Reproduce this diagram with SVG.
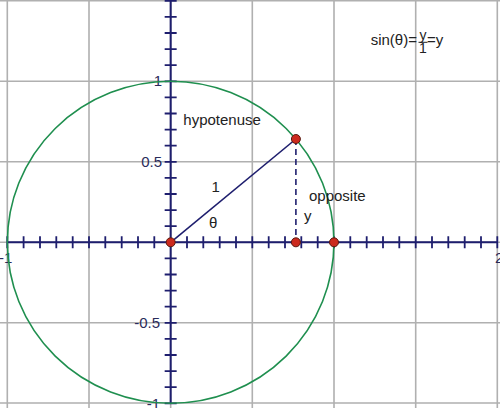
<svg xmlns="http://www.w3.org/2000/svg" width="500" height="408" viewBox="0 0 500 408">
<style>
.grid{stroke:#b0b0b0;stroke-width:1.6;fill:none}
.axis{stroke:#1e1e6e;stroke-width:2;fill:none}
.tick{stroke:#1e1e6e;stroke-width:1.8;fill:none}
.circ{stroke:#1f8f4f;stroke-width:1.6;fill:none}
.seg{stroke:#1e1e6e;stroke-width:1.6;fill:none}
.dash{stroke:#1e1e6e;stroke-width:1.6;fill:none;stroke-dasharray:6,4}
.pt{fill:#cc2a1e;stroke:#5a1a10;stroke-width:1}
.lbl{font-family:"Liberation Sans",Arial,sans-serif;font-size:15px;fill:#222}
.ax{font-family:"Liberation Sans",Arial,sans-serif;font-size:15px;fill:#2a2a5a}
</style>
<rect width="500" height="408" fill="#fff"/>
<g id="grid">
<path class="grid" d="M7.3,0V408M89,0V408M170.67,0V408M252.3,0V408M334,0V408M415.7,0V408M497.3,0V408M0,0.8H500M0,81.3H500M0,161.8H500M0,242.3H500M0,322.8H500M0,403H500"/>
</g>
<g id="axes">
<path class="axis" d="M7.3,242.3H497.3M170.67,0V403.3"/>
<path class="tick" d="M7.3,236.3v12M23.6,236.3v12M40,236.3v12M56.3,236.3v12M72.7,236.3v12M89,236.3v12M105.3,236.3v12M121.7,236.3v12M138,236.3v12M154.3,236.3v12M187,236.3v12M203.3,236.3v12M219.7,236.3v12M236,236.3v12M252.3,236.3v12M268.7,236.3v12M285,236.3v12M301.3,236.3v12M317.7,236.3v12M334,236.3v12M350.3,236.3v12M366.7,236.3v12M383,236.3v12M399.3,236.3v12M415.7,236.3v12M432,236.3v12M448.3,236.3v12M464.7,236.3v12M481,236.3v12M497.3,236.3v12"/>
<path class="tick" d="M164.67,0.8h12M164.67,16.9h12M164.67,33h12M164.67,49.1h12M164.67,65.2h12M164.67,81.3h12M164.67,97.4h12M164.67,113.5h12M164.67,129.6h12M164.67,145.7h12M164.67,161.8h12M164.67,177.9h12M164.67,194h12M164.67,210.1h12M164.67,226.2h12M164.67,258.4h12M164.67,274.5h12M164.67,290.6h12M164.67,306.7h12M164.67,322.8h12M164.67,338.9h12M164.67,355h12M164.67,371.1h12M164.67,387.2h12M164.67,403.3h12"/>
<text class="ax" x="162" y="86" text-anchor="end">1</text>
<text class="ax" x="162" y="167" text-anchor="end">0.5</text>
<text class="ax" x="160" y="328" text-anchor="end">-0.5</text>
<text class="ax" x="160" y="409" text-anchor="end">-1</text>
<text class="ax" x="-1" y="263">-1</text>
<text class="ax" x="495" y="263">2</text>
</g>
<g id="circle">
<ellipse class="circ" cx="170.67" cy="242.3" rx="163.3" ry="161"/>
</g>
<g id="connectors">
<line class="seg" x1="170.67" y1="242.3" x2="295.9" y2="139"/>
<line class="dash" x1="295.9" y1="139" x2="295.9" y2="242.3"/>
</g>
<g id="points">
<circle id="origin" class="pt" cx="170.67" cy="242.3" r="4.5"/>
<circle id="P" class="pt" cx="295.9" cy="139" r="4.5"/>
<circle id="foot" class="pt" cx="295.9" cy="242.3" r="4.5"/>
<circle id="one" class="pt" cx="334" cy="242.3" r="4.5"/>
</g>
<g id="labels">
<text class="lbl" x="183.3" y="125">hypotenuse</text>
<text class="lbl" x="211.5" y="192">1</text>
<text class="lbl" x="209" y="228">θ</text>
<text class="lbl" x="304" y="221">y</text>
<text class="lbl" x="309" y="201">opposite</text>
<text class="lbl" x="370.7" y="45">sin(θ)=</text>
<text class="lbl" x="423" y="40" text-anchor="middle" style="font-size:14px">y</text>
<line x1="418.5" y1="42.3" x2="427.5" y2="42.3" stroke="#222" stroke-width="1"/>
<text class="lbl" x="423" y="52.5" text-anchor="middle" style="font-size:14px">1</text>
<text class="lbl" x="427" y="45">=y</text>
</g>
</svg>
